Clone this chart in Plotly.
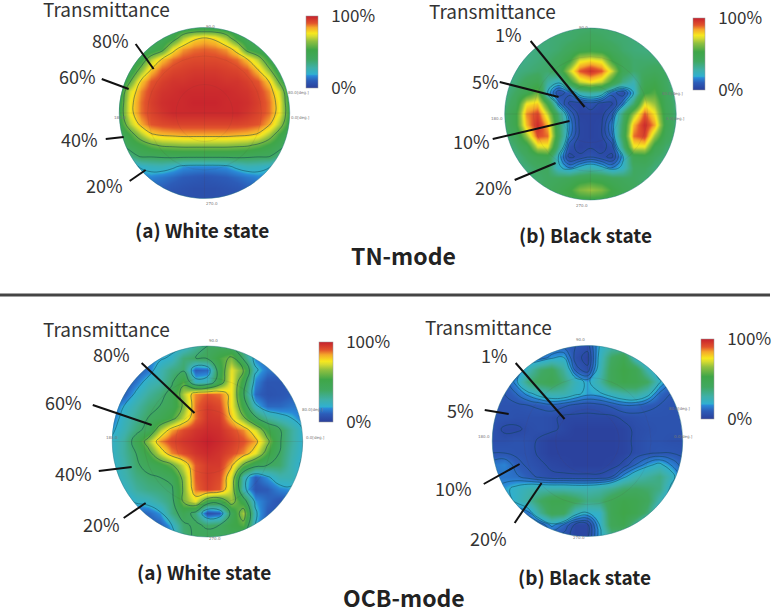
import plotly.graph_objects as go

W, H = 772, 607
axis_pos = [-1, -.875, -.75, -.625, -.5, -.375, -.25, -.125, 0, .125, .25, .375, .5, .625, .75, .875, 1]
axis_pos_y = [1, .875, .75, .625, .5, .375, .25, .125, 0, -.125, -.25, -.375, -.5, -.625, -.75, -.875, -1]

tn_white = [
 [30,35,38,40,42,44,45,46,46,46,45,44,42,40,38,35,30],
 [38,40,42,42,44,52,68,78,81,78,68,52,44,42,42,40,38],
 [40,42,44,46,54,76,85,88,89,88,85,76,54,46,44,42,40],
 [40,44,50,68,81,88,91,92,92,92,91,88,81,68,50,44,40],
 [42,46,64,81,90,93,94,95,95,95,94,93,90,81,64,46,42],
 [42,58,80,90,94,96,96,97,97,97,96,96,94,90,80,58,42],
 [46,72,86,93,96,97,98,98,98,98,98,97,96,93,86,72,46],
 [48,76,88,94,97,98,98,99,99,99,98,98,97,94,88,76,48],
 [50,76,88,93,96,98,98,98,98,98,98,98,96,93,88,76,50],
 [48,68,83,90,92,93,93,93,93,93,93,93,92,90,83,68,48],
 [42,54,68,79,82,83,84,84,84,84,84,83,82,79,68,54,42],
 [36,46,52,58,62,63,64,64,64,64,64,63,62,58,52,46,36],
 [24,34,42,42,43,44,44,44,44,44,44,44,43,42,42,34,24],
 [16,16,21,24,25,22,18,17,17,17,18,22,25,24,21,16,16],
 [10,12,15,16,14,12,10,9,8,9,10,12,14,16,15,12,10],
 [8,8,9,10,10,8,7,6,6,6,7,8,10,10,9,8,8],
 [6,6,6,6,6,6,6,6,6,6,6,6,6,6,6,6,6],
]
tn_black = [
 [38,38,38,38,38,38,38,38,38,38,38,38,38,38,38,38,38],
 [36,36,36,36,36,37,38,40,42,40,38,37,36,36,36,36,36],
 [34,34,34,35,36,38,42,48,50,48,42,38,36,35,35,35,35],
 [32,33,34,36,38,42,52,74,78,74,52,42,38,38,38,38,36],
 [32,34,36,38,38,44,70,90,97,90,70,44,38,40,42,40,36],
 [32,36,42,46,30,22,50,70,76,70,50,34,26,46,50,40,34],
 [34,40,48,60,20,5,10,26,30,26,10,5,20,52,56,42,34],
 [36,44,76,80,52,14,3,3,7,3,3,14,38,74,66,44,36],
 [38,50,86,93,70,36,12,2,2,2,10,36,66,90,76,46,36],
 [38,50,82,98,82,40,16,3,2,3,16,40,82,98,84,48,36],
 [36,42,66,92,88,42,14,3,2,3,14,42,88,94,66,44,36],
 [34,38,46,72,74,34,6,2,3,2,6,34,74,74,48,38,36],
 [32,34,40,46,48,20,3,5,8,5,3,18,46,48,40,36,34],
 [32,34,36,40,40,22,16,22,26,22,16,22,40,40,36,34,32],
 [32,34,36,38,40,42,44,48,50,48,44,42,40,38,36,34,32],
 [32,34,36,38,42,46,52,62,66,62,52,46,42,38,36,34,32],
 [32,34,36,38,42,46,48,50,50,50,48,46,42,38,36,34,32],
]
ocb_white = [
 [10,10,10,12,14,16,20,30,40,42,40,30,18,12,10,10,10],
 [10,10,12,14,18,22,36,40,42,54,62,38,16,12,10,10,10],
 [8,8,8,14,26,34,38,10,12,48,74,60,22,14,12,10,10],
 [6,6,14,24,28,38,56,24,26,50,76,48,16,8,8,8,8],
 [6,10,22,30,36,44,68,86,90,88,76,42,12,7,8,10,10],
 [12,20,28,36,40,46,62,88,95,92,76,50,22,12,12,14,14],
 [14,24,32,40,46,54,70,88,96,95,80,62,42,30,24,20,15],
 [18,26,36,44,68,84,92,96,98,97,92,86,72,52,42,30,20],
 [22,30,46,66,86,93,96,98,100,98,95,91,84,64,42,30,20],
 [22,30,40,54,72,86,92,96,98,96,92,86,74,54,40,28,20],
 [20,28,38,44,50,58,72,90,95,95,82,58,44,40,38,26,18],
 [20,26,34,38,40,44,64,90,95,92,72,26,10,18,26,26,18],
 [16,22,30,34,36,38,62,88,94,90,70,24,8,10,16,18,14],
 [12,14,22,24,30,36,62,74,50,48,66,48,18,12,8,8,8],
 [8,8,10,12,18,34,46,36,6,10,44,68,22,10,8,8,8],
 [8,8,8,8,10,20,38,42,38,40,50,56,20,8,8,8,8],
 [8,8,8,8,8,14,36,42,44,42,44,40,14,8,8,8,8],
]
ocb_black = [
 [10,10,10,10,10,10,10,8,6,20,26,24,12,10,10,10,10],
 [10,10,10,10,12,18,20,6,2,22,40,48,22,10,10,10,10],
 [10,10,10,26,38,42,30,10,5,24,44,52,46,26,12,10,10],
 [8,8,18,36,42,46,36,24,18,28,44,50,48,40,22,10,8],
 [8,8,12,18,24,27,27,22,18,19,24,28,30,24,12,8,8],
 [7,7,7,8,9,11,9,7,6,7,9,12,12,9,8,7,7],
 [7,7,6,6,6,5,3,3,3,3,3,5,6,7,7,7,7],
 [7,3,3,5,6,5,3,1,1,1,1,2,5,6,7,7,7],
 [6,6,7,6,3,1,1,1,1,1,1,2,5,7,7,6,6],
 [8,8,7,6,3,1,1,1,1,1,1,2,5,7,8,8,7],
 [14,16,10,7,5,3,2,1,1,1,2,5,12,18,22,16,10],
 [14,14,13,10,7,5,5,5,5,5,8,18,26,30,34,24,12],
 [16,18,22,26,27,27,27,26,26,28,32,38,40,38,34,18,10],
 [12,14,22,30,40,48,48,42,34,36,46,50,48,42,26,12,10],
 [8,8,10,14,32,44,42,24,20,22,46,52,48,36,16,10,8],
 [6,6,6,6,8,18,12,3,3,20,44,48,30,14,8,6,6],
 [6,6,6,6,6,6,6,2,3,18,32,30,10,6,6,6,6],
]

panels = [
 dict(z=tn_white,  cx=205, cy=113, r=85.5, levels=(20,80,20), bar=(307,16,12,72)),
 dict(z=tn_black,  cx=592, cy=114, r=86,   levels=(4,20,4),   bar=(695,18,12,72)),
 dict(z=ocb_white, cx=208, cy=441.5, r=95.5, levels=(20,80,20), bar=(320,342,14,80)),
 dict(z=ocb_black, cx=589, cy=441, r=95.5, levels=(4,20,4),   bar=(703,339,13,80)),
]
tick_values = [0, 100]
tick_texts = ["0%", "100%"]
colour_stops = [(0,"#2b3f9b"),(.10,"#2c5cb8"),(.17,"#2a8ad8"),(.19,"#30b0d0"),(.28,"#3fb0a8"),
                (.40,"#40a860"),(.53,"#3fa648"),(.65,"#90c040"),(.72,"#d8dc30"),(.76,"#f7e81e"),
                (.84,"#f5a72a"),(.90,"#e2542c"),(1,"#c6202d")]

labels = [
 ("Transmittance",107,9),("80%",111,40),("60%",78,76),("40%",80,139),("20%",105,185),
 ("Transmittance",494,10),("1%",510,34),("5%",487,81),("10%",473,141),("20%",495,187),
 ("Transmittance",107,329),("80%",112,354),("60%",64,402),("40%",74,473),("20%",102,524),
 ("Transmittance",490,326),("1%",496,355),("5%",462,410),("10%",455,488),("20%",490,538),
]
leaders = [
 (136,44,154,69),(102,79,129,89),(106,139,124,137),(130,181,146,170),
 (532,41,586,107),(501,82,560,97),(494,139,571,121),(516,180,557,163),
 (142,363,195,413),(93,405,152,425),(99,471,132,467),(124,518,146,503),
 (517,363,566,419),(486,410,510,414),(485,484,521,464),(516,523,543,483),
]
captions = [("(a) White state",203,229,19),("(b) Black state",587,234,19),
            ("(a) White state",205,571,19),("(b) Black state",586,576,19),
            ("TN-mode",405,255,23),("OCB-mode",405,597,23)]
angle_labels = [("90.0",0,-1.06),("180.0",-1.09,0),("0.0[deg.]",1.13,0),("80.0[deg.]",1.1,-.29),("270.0",0,1.06)]

FONT = "Noto Sans CJK JP"
PAD = 1.1
px = lambda x: x / W
py = lambda y: 1 - y / H
fig = go.Figure()
shapes, annotations = [], []
K = 0.5523
circle_path = (f"M-1.3,-1.3 L1.3,-1.3 L1.3,1.3 L-1.3,1.3 Z "
               f"M1,0 C1,{K} {K},1 0,1 C{-K},1 -1,{K} -1,0 C-1,{-K} {-K},-1 0,-1 C{K},-1 1,{-K} 1,0 Z")
layout = {}
for i, p in enumerate(panels):
    n = "" if i == 0 else str(i + 1)
    xa, ya = "x" + n, "y" + n
    rp = p["r"] * PAD
    base = dict(range=[-PAD, PAD], visible=False, fixedrange=True)
    layout["xaxis" + n] = dict(base, domain=[px(p["cx"] - rp), px(p["cx"] + rp)], anchor=ya)
    layout["yaxis" + n] = dict(base, domain=[py(p["cy"] + rp), py(p["cy"] - rp)], anchor=xa)
    bx, by, bw, bh = p["bar"]
    layout["coloraxis" + n] = dict(
        cmin=0, cmax=100, colorscale=[list(s) for s in colour_stops],
        colorbar=dict(x=px(bx), xanchor="left", y=py(by + bh / 2), yanchor="middle",
                      thickness=bw, thicknessmode="pixels", len=bh / H, lenmode="fraction",
                      xpad=0, ypad=0, outlinewidth=.5, outlinecolor="#999",
                      tickvals=tick_values, ticktext=tick_texts, ticks="outside", ticklen=10,
                      tickcolor="rgba(0,0,0,0)", tickfont=dict(family=FONT, size=17, color="#333")))
    fig.add_trace(go.Heatmap(x=axis_pos, y=axis_pos_y, z=p["z"], zsmooth="best",
                             coloraxis="coloraxis" + n, xaxis=xa, yaxis=ya, hoverinfo="skip"))
    s, e, d = p["levels"]
    fig.add_trace(go.Contour(x=axis_pos, y=axis_pos_y, z=p["z"], showscale=False, xaxis=xa, yaxis=ya,
                             contours=dict(coloring="none", start=s, end=e, size=d),
                             line=dict(color="rgba(15,65,80,.55)", width=.9, smoothing=1.3),
                             hoverinfo="skip"))
    for rr in (1/3, 2/3):
        shapes.append(dict(type="circle", xref=xa, yref=ya, x0=-rr, x1=rr, y0=-rr, y1=rr,
                           line=dict(color="rgba(90,60,60,.13)", width=.7)))
    shapes.append(dict(type="line", xref=xa, yref=ya, x0=-1, x1=1, y0=0, y1=0, line=dict(color="rgba(90,60,60,.15)", width=.7)))
    shapes.append(dict(type="line", xref=xa, yref=ya, x0=0, x1=0, y0=-1, y1=1, line=dict(color="rgba(90,60,60,.15)", width=.7)))
    shapes.append(dict(type="path", xref=xa, yref=ya, path=circle_path, fillcolor="white", line=dict(width=0), layer="above"))
    shapes.append(dict(type="circle", xref=xa, yref=ya, x0=-1, x1=1, y0=-1, y1=1,
                       line=dict(color="rgba(40,120,130,.55)", width=.8)))
    for t, dx, dy in angle_labels:
        annotations.append(dict(text=t, xref="paper", yref="paper", x=px(p["cx"] + dx * p["r"]), y=py(p["cy"] + dy * p["r"]),
                                showarrow=False, font=dict(family="DejaVu Sans", size=4, color="#777")))

for t, x, y in labels:
    size = 19 if t == "Transmittance" else 18
    annotations.append(dict(text=t, xref="paper", yref="paper", x=px(x), y=py(y), showarrow=False,
                            xanchor="center", yanchor="middle", font=dict(family=FONT, size=size, color="#333")))
for t, x, y, s in captions:
    annotations.append(dict(text=f"<b>{t}</b>", xref="paper", yref="paper", x=px(x), y=py(y), showarrow=False,
                            xanchor="center", yanchor="middle", font=dict(family=FONT, size=s, color="#222")))
for x0, y0, x1, y1 in leaders:
    shapes.append(dict(type="line", xref="paper", yref="paper", x0=px(x0), y0=py(y0), x1=px(x1), y1=py(y1),
                       line=dict(color="#111", width=2)))
shapes.append(dict(type="line", xref="paper", yref="paper", x0=0, x1=1, y0=py(295), y1=py(295),
                   line=dict(color="#444", width=3)))

fig.update_layout(width=W, height=H, margin=dict(l=0, r=0, t=0, b=0), paper_bgcolor="white",
                  plot_bgcolor="white", showlegend=False, shapes=shapes, annotations=annotations, **layout)
fig.write_html("out.html", config={"displayModeBar": False},
               post_script="document.body.style.margin='0';document.body.style.overflow='hidden';")
